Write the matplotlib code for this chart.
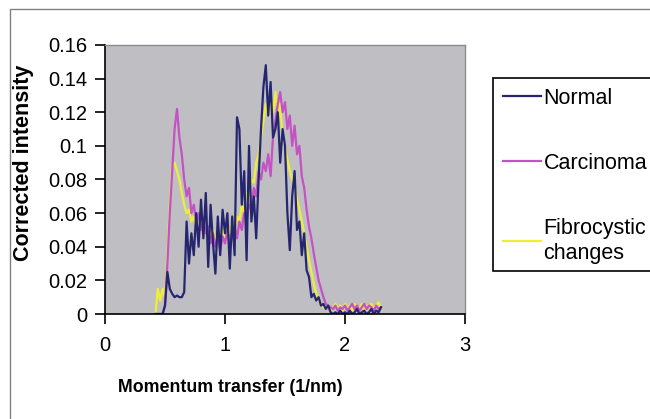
import numpy as np
import matplotlib
matplotlib.use("Agg")
import matplotlib.pyplot as plt
from matplotlib.patches import Rectangle

plt.rcParams['font.family'] = ['Liberation Sans', 'DejaVu Sans']

# momentum transfer grid (1/nm)
q = np.round(np.arange(0.42, 2.301, 0.02), 2)

normal = [
    0, 0, 0, 0, 0.005, 0.025, 0.015, 0.012, 0.010, 0.011,
    0.010, 0.010, 0.013, 0.055, 0.030, 0.048, 0.035, 0.060, 0.040, 0.068,
    0.045, 0.072, 0.028, 0.065, 0.042, 0.024, 0.058, 0.035, 0.062, 0.048,
    0.060, 0.027, 0.058, 0.035, 0.117, 0.110, 0.065, 0.085, 0.032, 0.100,
    0.055, 0.070, 0.045, 0.080, 0.110, 0.135, 0.148, 0.118, 0.138, 0.105,
    0.110, 0.120, 0.090, 0.110, 0.100, 0.060, 0.038, 0.070, 0.085, 0.050,
    0.055, 0.035, 0.048, 0.026, 0.022, 0.010, 0.012, 0.008, 0.010, 0.005,
    0.006, 0.003, 0.005, 0.001, 0.000, 0.001, 0.000, 0.002, 0.000, 0.001,
    0.000, 0.002, 0.000, 0.001, 0.003, 0.000, 0.001, 0.002, 0.000, 0.001,
    0.003, 0.000, 0.002, 0.001, 0.004,
]

carcinoma = [
    0, 0, 0, 0, 0.005, 0.030, 0.060, 0.085, 0.110, 0.122,
    0.105, 0.095, 0.080, 0.070, 0.075, 0.060, 0.065, 0.055, 0.060, 0.050,
    0.055, 0.048, 0.052, 0.042, 0.048, 0.040, 0.045, 0.038, 0.046, 0.042,
    0.050, 0.040, 0.048, 0.052, 0.045, 0.055, 0.050, 0.060, 0.055, 0.065,
    0.062, 0.075, 0.070, 0.085, 0.080, 0.090, 0.085, 0.095, 0.082, 0.105,
    0.115, 0.125, 0.132, 0.120, 0.126, 0.110, 0.118, 0.100, 0.112, 0.095,
    0.100, 0.082, 0.075, 0.062, 0.052, 0.045, 0.036, 0.028, 0.020, 0.015,
    0.010, 0.006, 0.005, 0.004, 0.003, 0.005, 0.002, 0.004, 0.003, 0.005,
    0.002, 0.004, 0.006, 0.003, 0.005, 0.002, 0.004, 0.006, 0.003, 0.005,
    0.004, 0.002, 0.005, 0.003, 0.004,
]

fibrocystic = [
    0, 0.015, 0.008, 0.015, 0.010, 0.035, 0.065, 0.088, 0.090, 0.085,
    0.080, 0.072, 0.065, 0.060, 0.062, 0.055, 0.058, 0.052, 0.055, 0.050,
    0.053, 0.048, 0.050, 0.046, 0.050, 0.045, 0.048, 0.045, 0.050, 0.046,
    0.052, 0.048, 0.055, 0.050, 0.058, 0.055, 0.065, 0.060, 0.072, 0.068,
    0.080, 0.078, 0.090, 0.095, 0.105, 0.115, 0.125, 0.118, 0.128, 0.120,
    0.132, 0.115, 0.125, 0.105, 0.100, 0.092, 0.085, 0.080, 0.075, 0.068,
    0.062, 0.055, 0.048, 0.040, 0.032, 0.025, 0.018, 0.012, 0.008, 0.006,
    0.004, 0.003, 0.005, 0.002, 0.004, 0.006, 0.003, 0.005, 0.002, 0.006,
    0.003, 0.005, 0.002, 0.006, 0.004, 0.003, 0.006, 0.002, 0.005, 0.004,
    0.006, 0.003, 0.005, 0.007, 0.004,
]

labels = ["Normal", "Carcinoma", "Fibrocystic\nchanges"]
colors = ["#262670", "#C452C4", "#EEEE3A"]

fig = plt.figure(figsize=(6.5, 4.19), dpi=100)
W, H = 650, 419

# outer chart frame
fig.patches.append(Rectangle((10 / W, -0.1), 1.2, (419 - 9) / H + 0.1, transform=fig.transFigure,
                             facecolor='none', edgecolor='#808080', lw=1.0))

ax = fig.add_axes([105 / W, 1 - 314 / H, 360 / W, 269 / H])
ax.set_facecolor('#BFBFC3')

# yellow, magenta, then navy on top
l_f, = ax.plot(q, fibrocystic, color=colors[2], lw=1.6)
l_c, = ax.plot(q, carcinoma, color=colors[1], lw=1.6)
l_n, = ax.plot(q, normal, color=colors[0], lw=1.6)

ax.set_xlim(0, 3)
ax.set_ylim(0, 0.16)
ax.set_xticks([0, 1, 2, 3])
ax.set_yticks(np.arange(0, 0.161, 0.02))
ax.set_xticklabels(["0", "1", "2", "3"])
ax.set_yticklabels(["0", "0.02", "0.04", "0.06", "0.08", "0.1", "0.12", "0.14", "0.16"])
ax.tick_params(axis='both', labelsize=14.5, direction='out', length=7, width=1.2, color='black')
ax.tick_params(axis='x', pad=9)
ax.tick_params(axis='y', pad=6)

for s in ['top', 'right']:
    ax.spines[s].set_color('#8C8C8C')
    ax.spines[s].set_linewidth(1.0)
for s in ['left', 'bottom']:
    ax.spines[s].set_color('black')
    ax.spines[s].set_linewidth(1.2)

ax.set_xlabel("Momentum transfer (1/nm)", fontsize=12.8, fontweight='bold')
ax.xaxis.set_label_coords((230 - 105) / 360, -(379 - 314) / 269)
ax.set_ylabel("Corrected intensity", fontsize=15.5, fontweight='bold')
ax.yaxis.set_label_coords(-(105 - 34) / 360, (314 - 163) / 269)

# legend box runs past the right edge of the picture
fig.patches.append(Rectangle((493 / W, 1 - 271 / H), 200 / W, (271 - 78) / H,
                             transform=fig.transFigure, facecolor='white',
                             edgecolor='black', lw=1.2, zorder=0.5))
leg = fig.legend([l_n, l_c, l_f], labels, loc='upper left',
                 bbox_to_anchor=(493 / W, 1 - 78 / H), fontsize=15.5,
                 frameon=False, handlelength=1.8, handletextpad=0.1,
                 labelspacing=2.06, borderpad=0.45, borderaxespad=0)

fig.savefig("out.png", dpi=100)
